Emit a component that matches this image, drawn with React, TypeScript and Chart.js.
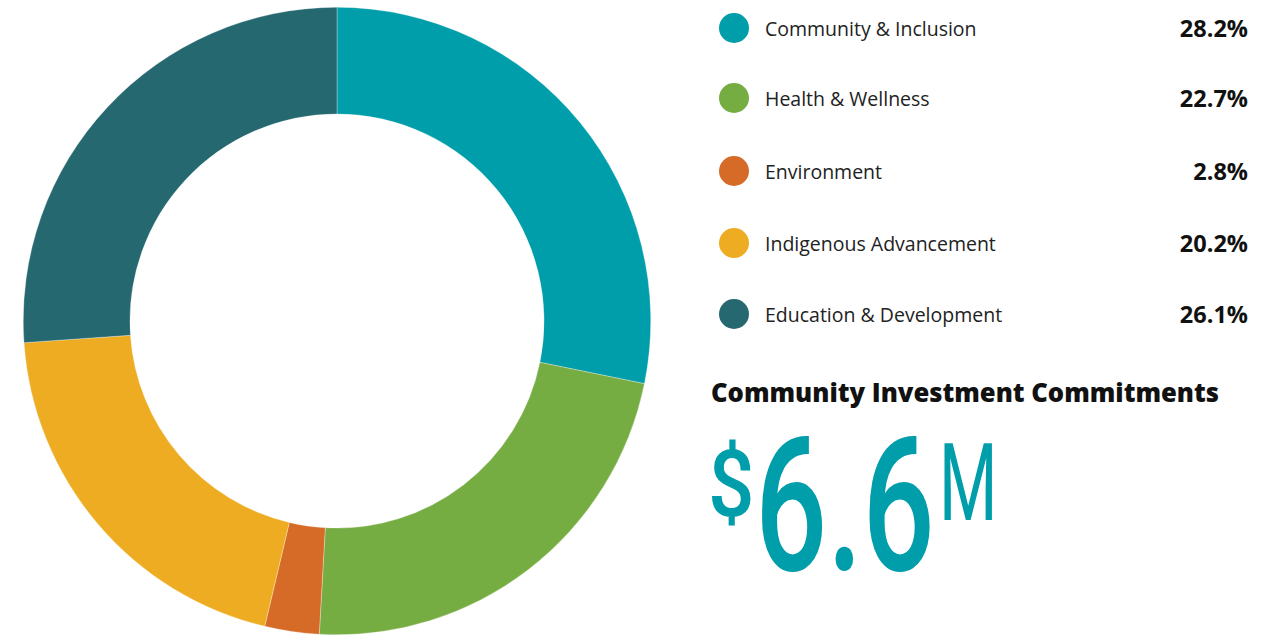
import React, { useEffect, useRef } from "react";
import { Chart, registerables } from "chart.js";

Chart.register(...registerables);

const categories = [
  "Community & Inclusion",
  "Health & Wellness",
  "Environment",
  "Indigenous Advancement",
  "Education & Development",
];
const shares = [28.2, 22.7, 2.8, 20.2, 26.1];
const colors = ["#009EAA", "#76AD43", "#D66B28", "#EDAC21", "#256870"];
const shareLabels = ["28.2%", "22.7%", "2.8%", "20.2%", "26.1%"];
const titleText = "Community Investment Commitments";
const totalPrefix = "$";
const totalValue = "6.6";
const totalSuffix = "M";

const rowCenters = [28, 98, 171, 243, 314];

export default function App() {
  const ref = useRef<HTMLCanvasElement | null>(null);
  useEffect(() => {
    if (!ref.current) return;
    const chart = new Chart(ref.current, {
      type: "doughnut",
      data: {
        labels: categories,
        datasets: [
          {
            data: shares,
            backgroundColor: colors,
            borderColor: "rgba(255,255,255,0.6)",
            borderWidth: 0.5,
          },
        ],
      },
      options: {
        responsive: false,
        animation: false,
        cutout: "66%",
        plugins: { legend: { display: false }, tooltip: { enabled: false } },
        layout: { padding: 0 },
      },
    });
    return () => chart.destroy();
  }, []);

  const legendFont = "'Open Sans', Lato, sans-serif";
  return (
    <div style={{ position: "absolute", left: 0, top: 0, width: 1284, height: 635, background: "#fff", overflow: "hidden" }}>
      <canvas ref={ref} width={628} height={628} style={{ position: "absolute", left: 23, top: 7, width: 628, height: 628 }} />
      {categories.map((c, i) => (
        <div key={c} style={{ position: "absolute", left: 719, top: rowCenters[i] - 15, width: 530, height: 30, display: "flex", alignItems: "center", fontFamily: legendFont }}>
          <div style={{ width: 30, height: 30, borderRadius: "50%", background: colors[i], marginRight: 16, flex: "none" }} />
          <span style={{ fontSize: 19.5, color: "#222" }}>{c}</span>
          <span style={{ position: "absolute", right: 1, fontSize: 23.5, fontWeight: 700, color: "#111" }}>{shareLabels[i]}</span>
        </div>
      ))}
      <div style={{ position: "absolute", left: 711, top: 375, fontFamily: legendFont, fontWeight: 800, fontSize: 25.6, lineHeight: "36px", color: "#111", whiteSpace: "nowrap" }}>
        {titleText}
      </div>
      <span style={{ position: "absolute", left: 708, top: 438, fontFamily: "Roboto", fontWeight: 500, fontSize: 93, lineHeight: 1, color: "#009EAA", transform: "scaleX(0.88)", transformOrigin: "left top", whiteSpace: "nowrap" }}>{totalPrefix}</span>
      <span style={{ position: "absolute", left: 755, top: 413, fontFamily: "Roboto", fontWeight: 500, fontSize: 187, lineHeight: 1, color: "#009EAA", transform: "scaleX(0.68)", transformOrigin: "left top", whiteSpace: "nowrap" }}>{totalValue}</span>
      <span style={{ position: "absolute", left: 939, top: 429, fontFamily: "Roboto", fontWeight: 400, fontSize: 108, lineHeight: 1, color: "#009EAA", transform: "scaleX(0.62)", transformOrigin: "left top", whiteSpace: "nowrap" }}>{totalSuffix}</span>
    </div>
  );
}
